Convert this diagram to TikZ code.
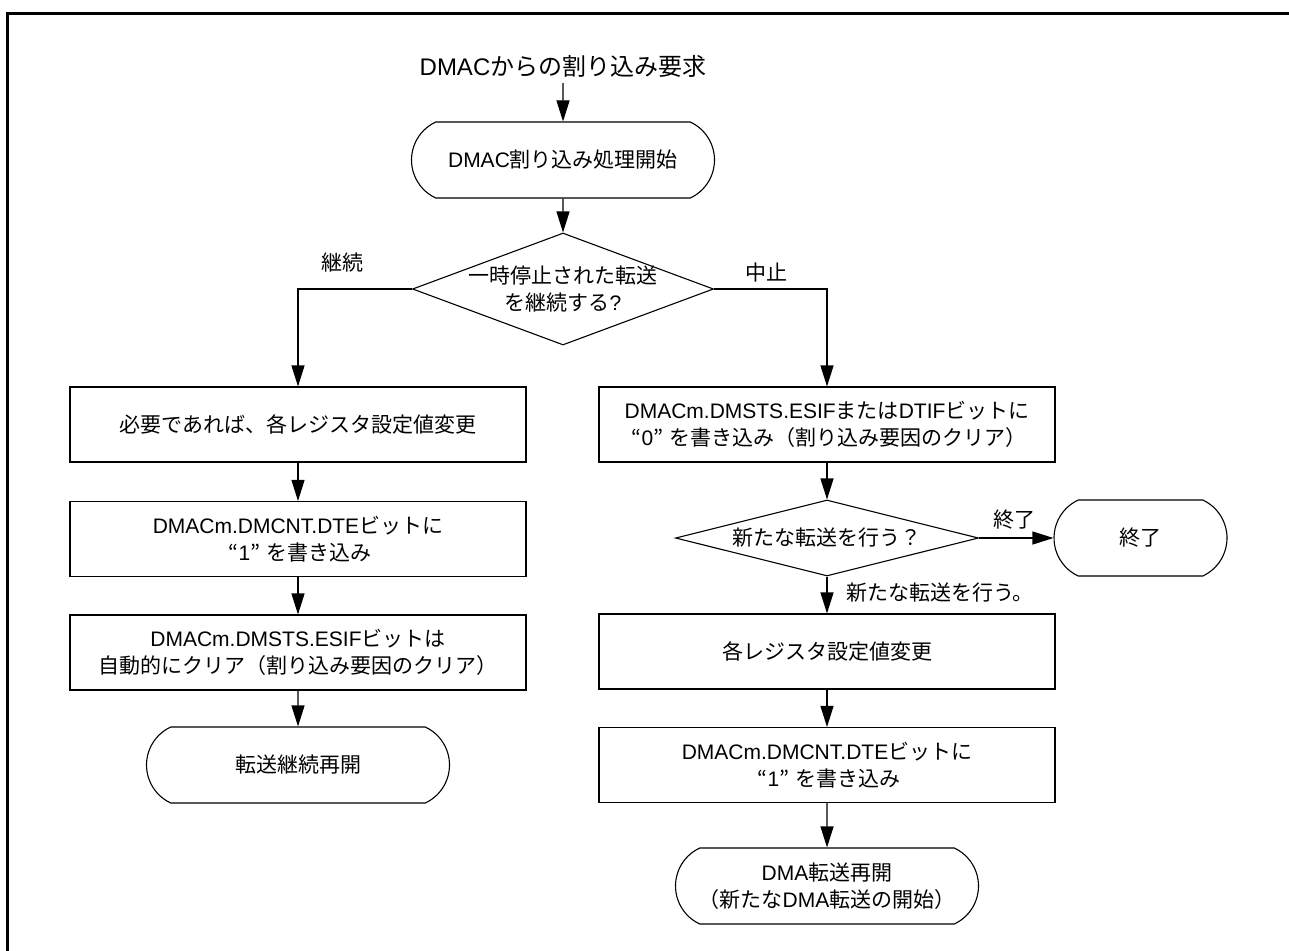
\documentclass[tikz,border=0pt]{standalone}
\usepackage{fontspec}
\setmainfont{Liberation Sans}
\newfontfamily\jp{Noto Sans CJK JP}
\usetikzlibrary{arrows.meta,shapes.geometric,shapes.misc}
\newcommand{\J}[1]{{\jp #1}}
\newcommand{\Q}[1]{\hspace{4pt}\J{“}#1\J{”}\hspace{6pt}}
\begin{document}
\begin{tikzpicture}[x=1pt,y=-1pt,
  every node/.style={font=\fontsize{21}{27.5}\selectfont, inner sep=0pt},
  box/.style={draw, line width=1.1pt, rectangle, minimum width=456pt, minimum height=75pt, align=center},
  term/.style={draw, line width=1.1pt, rounded rectangle, rounded rectangle arc length=130, minimum width=303pt, minimum height=76pt, align=center},
  dia/.style={draw, line width=1.1pt, diamond},
  arr/.style={line width=1.1pt, -{Triangle[length=21pt,width=13pt]}},
  lab/.style={align=center}
]
\useasboundingbox (0,0) rectangle (1289,950);
\draw[line width=3pt] (1295,14) -- (7,14) -- (7,960);

\node[font=\fontsize{24}{28}\selectfont] (title) at (563,66) {DMAC\J{からの割り込み要求}};
\node[term] (start) at (563,160) {DMAC\J{割り込み処理開始}};
\node[dia, minimum width=301pt, minimum height=112pt] (d1) at (563,289) {};
\node[lab] (d1t) at (563,289) {\J{一時停止された転送}\\\J{を継続する}?};

\node[box] (lb1) at (298,424.5) {\J{必要であれば、各レジスタ設定値変更}};
\node[box] (lb2) at (298,539) {DMACm.DMCNT.DTE\J{ビットに}\\\Q{1}\J{を書き込み}};
\node[box] (lb3) at (298,652.5) {DMACm.DMSTS.ESIF\J{ビットは}\\\J{自動的にクリア（割り込み要因のクリア）}};
\node[term] (lterm) at (298,765) {\J{転送継続再開}};

\node[box] (rb1) at (827,424.5) {DMACm.DMSTS.ESIF\J{または}DTIF\J{ビットに}\\\Q{0}\J{を書き込み（割り込み要因のクリア）}};
\node[dia, minimum width=303pt, minimum height=76pt] (d2) at (827,538) {};
\node[lab] (d2t) at (827,538) {\J{新たな転送を行う？}};
\node[term, minimum width=173pt] (endt) at (1140.5,538) {\J{終了}};
\node[box] (rb2) at (827,651.5) {\J{各レジスタ設定値変更}};
\node[box] (rb3) at (827,765) {DMACm.DMCNT.DTE\J{ビットに}\\\Q{1}\J{を書き込み}};
\node[term] (rterm) at (827,886) {DMA\J{転送再開}\\\J{（新たな}DMA\J{転送の開始）}};

\node[lab] (lcont) at (342,263) {\J{継続}};
\node[lab] (lstop) at (766,273) {\J{中止}};
\node[lab] (lend) at (1014,520) {\J{終了}};
\node[lab] (lnew) at (940,593) {\J{新たな転送を行う。}};

\draw[arr, shorten <=6pt] (title) -- (start);
\draw[arr] (start) -- (d1);
\draw[arr] (d1.west) -| (lb1.north);
\draw[arr] (d1.east) -| (rb1.north);
\draw[arr] (lb1) -- (lb2);
\draw[arr] (lb2) -- (lb3);
\draw[arr] (lb3) -- (lterm);
\draw[arr] (rb1) -- (d2);
\draw[arr] (d2) -- (endt);
\draw[arr] (d2) -- (rb2);
\draw[arr] (rb2) -- (rb3);
\draw[arr] (rb3) -- (rterm);
\end{tikzpicture}
\end{document}
